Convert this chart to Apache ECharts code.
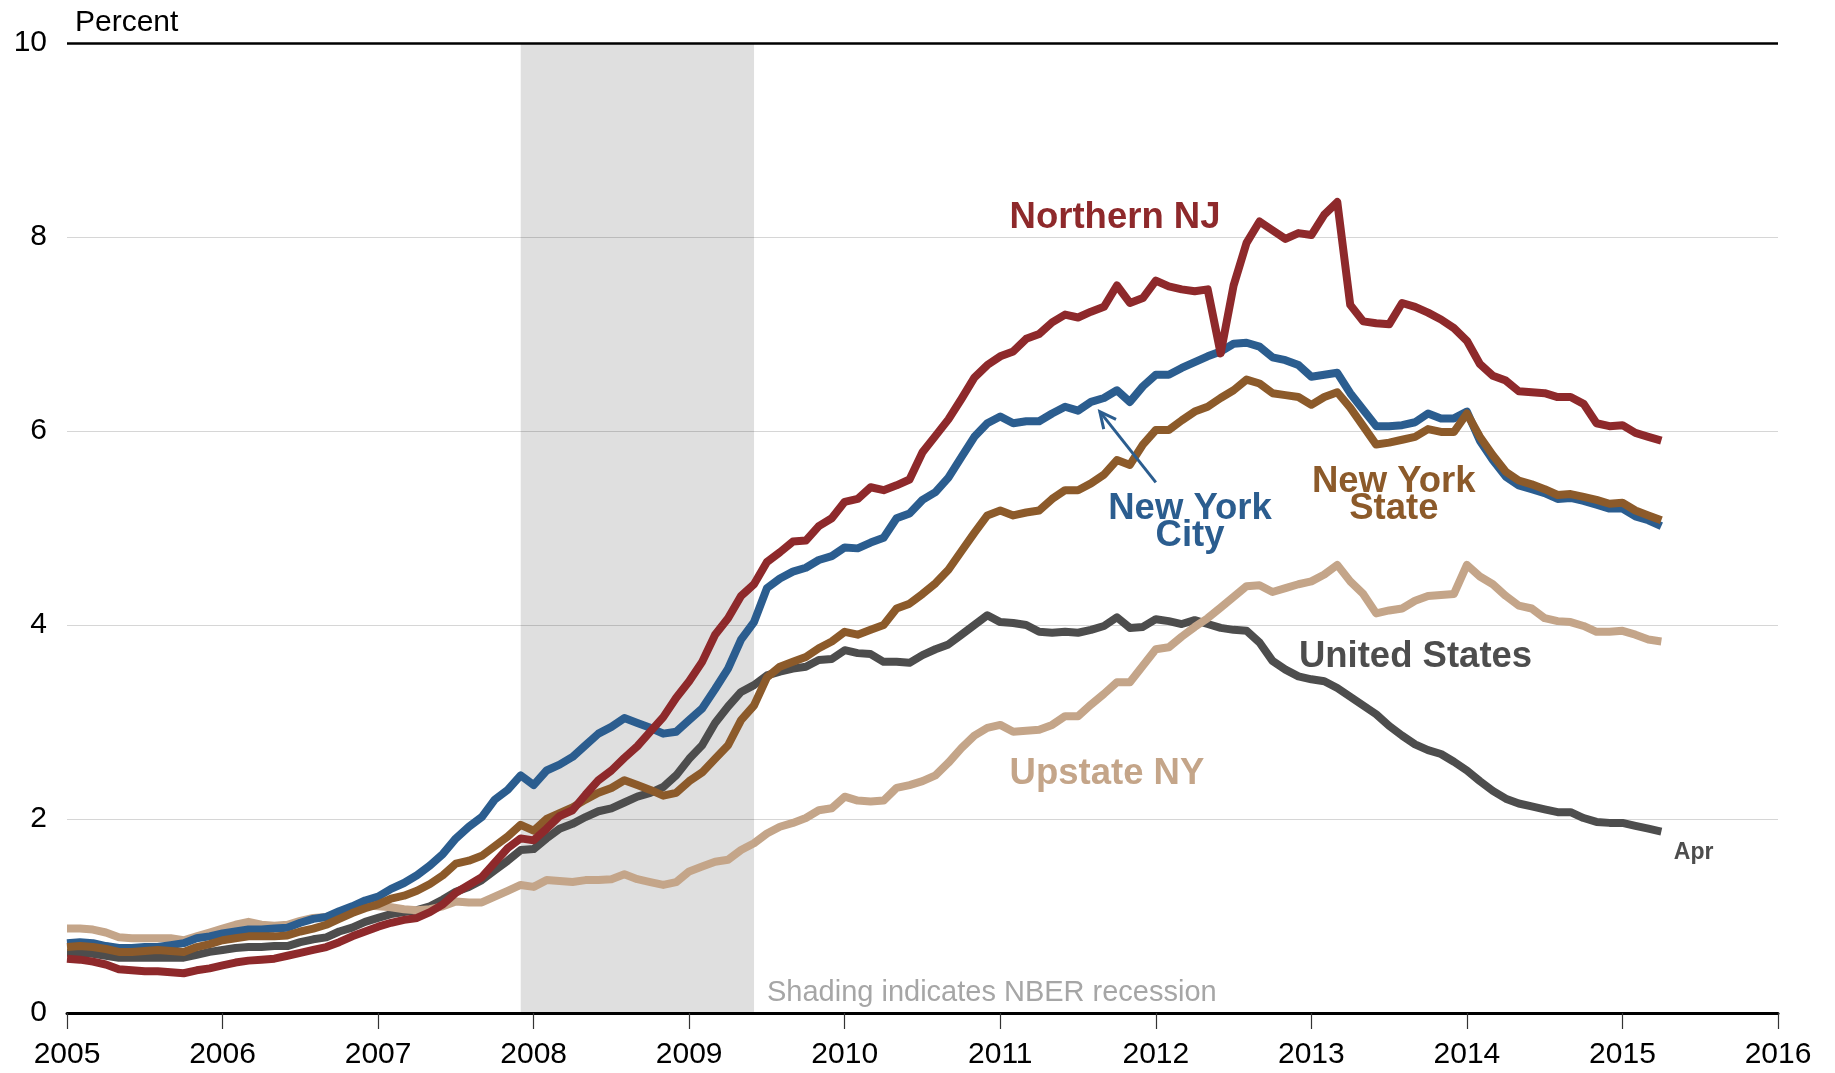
<!DOCTYPE html>
<html>
<head>
<meta charset="utf-8">
<title>Percent</title>
<script src="https://cdn.jsdelivr.net/npm/echarts@6/dist/echarts.min.js"></script>
<style>
  html, body { margin: 0; padding: 0; background: #fff; }
  #chart { width: 1835px; height: 1073px; }
</style>
</head>
<body>
<div id="chart"></div>
<script>
// monthly values, Jan 2005 .. Apr 2015
const startYear = 2005
const yearTicks = [2005, 2006, 2007, 2008, 2009, 2010, 2011, 2012, 2013, 2014, 2015, 2016]
const recession = [2007.917, 2009.417]

const unitedStates = [
  0.62, 0.62, 0.61, 0.59, 0.57, 0.57, 0.57, 0.57, 0.57, 0.57, 0.60, 0.63,
  0.65, 0.67, 0.68, 0.68, 0.69, 0.69, 0.73, 0.76, 0.78, 0.84, 0.88, 0.94,
  0.98, 1.02, 1.04, 1.06, 1.10, 1.17, 1.25, 1.30, 1.37, 1.47, 1.57, 1.68,
  1.69, 1.80, 1.90, 1.95, 2.02, 2.08, 2.11, 2.17, 2.23, 2.27, 2.33, 2.45,
  2.62, 2.76, 2.99, 3.16, 3.31, 3.38, 3.48, 3.52, 3.55, 3.57, 3.64, 3.65,
  3.74, 3.71, 3.70, 3.62, 3.62, 3.61, 3.69, 3.75, 3.80, 3.90, 4.00, 4.10,
  4.03, 4.02, 4.00, 3.93, 3.92, 3.93, 3.92, 3.95, 3.99, 4.08, 3.97, 3.98,
  4.06, 4.04, 4.01, 4.05, 4.01, 3.97, 3.95, 3.94, 3.82, 3.63, 3.54, 3.47,
  3.44, 3.42, 3.35, 3.26, 3.17, 3.08, 2.96, 2.86, 2.77, 2.71, 2.67, 2.59,
  2.50, 2.39, 2.29, 2.21, 2.16, 2.13, 2.10, 2.07, 2.07, 2.01, 1.97, 1.96,
  1.96, 1.93, 1.90, 1.87
]

const upstateNY = [
  0.87, 0.87, 0.86, 0.83, 0.78, 0.77, 0.77, 0.77, 0.77, 0.75, 0.79, 0.83,
  0.87, 0.91, 0.94, 0.91, 0.90, 0.91, 0.95, 0.98, 0.99, 1.03, 1.06, 1.11,
  1.10, 1.09, 1.07, 1.06, 1.07, 1.10, 1.15, 1.14, 1.14, 1.20, 1.26, 1.32,
  1.30, 1.37, 1.36, 1.35, 1.37, 1.37, 1.38, 1.43, 1.38, 1.35, 1.32, 1.35,
  1.46, 1.51, 1.56, 1.58, 1.68, 1.75, 1.85, 1.92, 1.96, 2.01, 2.09, 2.11,
  2.23, 2.19, 2.18, 2.19, 2.32, 2.35, 2.39, 2.45, 2.58, 2.73, 2.86, 2.94,
  2.97, 2.90, 2.91, 2.92, 2.97, 3.06, 3.06, 3.18, 3.29, 3.41, 3.41, 3.58,
  3.75, 3.77, 3.88, 3.98, 4.07, 4.18, 4.29, 4.40, 4.41, 4.34, 4.38, 4.42,
  4.45, 4.52, 4.62, 4.45, 4.32, 4.12, 4.15, 4.17, 4.25, 4.30, 4.31, 4.32,
  4.62, 4.50, 4.42, 4.30, 4.20, 4.17, 4.07, 4.04, 4.03, 3.99, 3.93, 3.93,
  3.94, 3.90, 3.85, 3.83
]

const newYorkCity = [
  0.72, 0.73, 0.72, 0.69, 0.67, 0.67, 0.68, 0.68, 0.70, 0.72, 0.77, 0.79,
  0.82, 0.84, 0.86, 0.86, 0.87, 0.88, 0.93, 0.97, 0.99, 1.05, 1.10, 1.16,
  1.20, 1.28, 1.34, 1.42, 1.52, 1.64, 1.80, 1.92, 2.02, 2.20, 2.30, 2.45,
  2.35, 2.50, 2.56, 2.64, 2.76, 2.88, 2.95, 3.04, 2.99, 2.94, 2.88, 2.90,
  3.02, 3.14, 3.34, 3.55, 3.85, 4.03, 4.38, 4.48, 4.55, 4.59, 4.67, 4.71,
  4.80, 4.79, 4.85, 4.90, 5.10, 5.15, 5.29, 5.37, 5.52, 5.73, 5.94, 6.08,
  6.15, 6.08, 6.10, 6.10, 6.18, 6.25, 6.21, 6.30, 6.34, 6.42, 6.30, 6.46,
  6.58, 6.58, 6.65, 6.71, 6.77, 6.82, 6.90, 6.91, 6.87, 6.76, 6.73, 6.68,
  6.56, 6.58, 6.60, 6.39, 6.22, 6.05, 6.05, 6.06, 6.09, 6.18, 6.13, 6.13,
  6.20, 5.90, 5.70, 5.53, 5.44, 5.40, 5.36, 5.30, 5.31, 5.28, 5.24, 5.20,
  5.20, 5.12, 5.08, 5.02
]

const newYorkState = [
  0.68, 0.69, 0.68, 0.66, 0.63, 0.63, 0.64, 0.65, 0.64, 0.63, 0.68, 0.71,
  0.75, 0.77, 0.79, 0.79, 0.79, 0.80, 0.84, 0.87, 0.91, 0.97, 1.03, 1.08,
  1.12, 1.18, 1.21, 1.26, 1.33, 1.42, 1.54, 1.57, 1.62, 1.72, 1.82, 1.94,
  1.88, 2.00, 2.06, 2.12, 2.20, 2.27, 2.32, 2.40, 2.35, 2.30, 2.24, 2.27,
  2.39, 2.48, 2.62, 2.76, 3.02, 3.17, 3.46, 3.57, 3.62, 3.67, 3.76, 3.83,
  3.93, 3.90, 3.95, 4.00, 4.17, 4.22, 4.32, 4.43, 4.57, 4.76, 4.95, 5.13,
  5.18, 5.13, 5.16, 5.18, 5.30, 5.39, 5.39, 5.46, 5.55, 5.70, 5.65, 5.86,
  6.01, 6.01, 6.11, 6.20, 6.25, 6.34, 6.42, 6.53, 6.49, 6.39, 6.37, 6.35,
  6.27, 6.35, 6.40, 6.24, 6.05, 5.86, 5.88, 5.91, 5.94, 6.02, 5.99, 5.99,
  6.18, 5.94, 5.75, 5.58, 5.49, 5.45, 5.40, 5.34, 5.35, 5.32, 5.29, 5.25,
  5.26, 5.18, 5.13, 5.08
]

const northernNJ = [
  0.56, 0.55, 0.53, 0.50, 0.45, 0.44, 0.43, 0.43, 0.42, 0.41, 0.44, 0.46,
  0.49, 0.52, 0.54, 0.55, 0.56, 0.59, 0.62, 0.65, 0.68, 0.73, 0.79, 0.84,
  0.89, 0.93, 0.96, 0.98, 1.04, 1.12, 1.24, 1.32, 1.40, 1.55, 1.70, 1.80,
  1.78, 1.90, 2.03, 2.09, 2.25, 2.40, 2.50, 2.63, 2.75, 2.90, 3.05, 3.25,
  3.42, 3.62, 3.90, 4.07, 4.30, 4.42, 4.65, 4.75, 4.86, 4.87, 5.02, 5.10,
  5.27, 5.30, 5.42, 5.39, 5.44, 5.50, 5.78, 5.95, 6.12, 6.33, 6.55, 6.68,
  6.77, 6.82, 6.95, 7.00, 7.12, 7.20, 7.17, 7.23, 7.28, 7.50, 7.32, 7.37,
  7.55, 7.49, 7.46, 7.44, 7.46, 6.80, 7.50, 7.94, 8.16, 8.07, 7.98, 8.04,
  8.02, 8.23, 8.36, 7.30, 7.13, 7.11, 7.10, 7.32, 7.28, 7.22, 7.15, 7.06,
  6.93, 6.69, 6.57, 6.52, 6.41, 6.40, 6.39, 6.35, 6.35, 6.28, 6.08, 6.05,
  6.06, 5.98, 5.94, 5.90
]

const FONT = '"Liberation Sans", Arial, Helvetica, sans-serif'

function toPairs(values) {
  return values.map((v, i) => [startYear + i / 12, v])
}

function lineSeries(name, values, color, extra) {
  return Object.assign({
    name: name,
    type: 'line',
    data: toPairs(values),
    symbol: 'none',
    smooth: false,
    lineStyle: { color: color, width: 8, join: 'round' },
    itemStyle: { color: color },
    emphasis: { disabled: true }
  }, extra || {})
}

const chart = echarts.init(document.getElementById('chart'), null, { renderer: 'canvas' })

chart.setOption({
  animation: false,
  backgroundColor: '#ffffff',
  textStyle: { fontFamily: FONT },
  grid: { left: 67, right: 57, top: 43, bottom: 60 },
  xAxis: {
    type: 'value',
    min: 2005,
    max: 2016,
    interval: 1,
    axisLine: { show: true, lineStyle: { color: '#000', width: 3 } },
    axisTick: { show: true, length: 16, lineStyle: { color: '#333', width: 1.2 } },
    axisLabel: {
      margin: 27,
      fontSize: 30,
      color: '#000',
      fontFamily: FONT,
      formatter: v => String(Math.round(v))
    },
    splitLine: { show: false }
  },
  yAxis: {
    type: 'value',
    min: 0,
    max: 10,
    interval: 2,
    name: 'Percent',
    nameLocation: 'end',
    nameGap: 5,
    nameTextStyle: {
      fontSize: 30,
      color: '#000',
      fontFamily: FONT,
      align: 'left',
      verticalAlign: 'bottom',
      padding: [0, 0, 0, 8]
    },
    axisLine: { show: false },
    axisTick: { show: false },
    axisLabel: { margin: 20, fontSize: 30, color: '#000', fontFamily: FONT },
    splitLine: { show: true, lineStyle: { color: '#d6d6d6', width: 1.2 } }
  },
  series: [
    lineSeries('United States', unitedStates, '#4d4d4d', {
      markArea: {
        silent: true,
        itemStyle: { color: 'rgba(0,0,0,0.125)' },
        data: [[{ xAxis: recession[0], yAxis: 0 }, { xAxis: recession[1], yAxis: 10 }]]
      },
      markLine: {
        silent: true,
        symbol: 'none',
        label: { show: false },
        lineStyle: { color: '#000', width: 2.5, type: 'solid' },
        data: [{ yAxis: 10 }]
      }
    }),
    lineSeries('Upstate NY', upstateNY, '#c4a589'),
    lineSeries('New York City', newYorkCity, '#2b5d8f'),
    lineSeries('New York State', newYorkState, '#8c5a2a'),
    lineSeries('Northern NJ', northernNJ, '#8e292b')
  ]
})

// annotations, placed through the axes
function px(x, y) {
  return chart.convertToPixel({ gridIndex: 0 }, [x, y])
}

function label(text, x, y, color, opts) {
  const p = px(x, y)
  const o = opts || {}
  return {
    type: 'text',
    x: p[0],
    y: p[1],
    silent: true,
    z: 100,
    style: {
      text: text,
      fill: color,
      fontFamily: FONT,
      fontSize: o.size || 36.5,
      fontWeight: o.weight || 'bold',
      align: o.align || 'left',
      verticalAlign: 'middle',
      lineHeight: o.lineHeight || 40
    }
  }
}

const tip = px(2011.64, 6.20)
const tail = px(2012.00, 5.47)
const ang = Math.atan2(tail[1] - tip[1], tail[0] - tip[0])
const head = 18
const spread = 0.45

chart.setOption({
  graphic: [
    label('Northern NJ', 2011.06, 8.20, '#8e292b'),
    label('New York\nCity', 2012.22, 5.06, '#2b5d8f', { align: 'center', lineHeight: 27 }),
    label('New York\nState', 2013.53, 5.34, '#8c5a2a', { align: 'center', lineHeight: 27 }),
    label('United States', 2012.92, 3.67, '#4d4d4d'),
    label('Upstate NY', 2011.06, 2.46, '#c4a589'),
    label('Apr', 2015.33, 1.65, '#4d4d4d', { size: 23 }),
    label('Shading indicates NBER recession', 2009.50, 0.21, '#a6a6a6', { size: 29, weight: 'normal' }),
    {
      type: 'polyline',
      silent: true,
      z: 100,
      shape: { points: [tail, tip] },
      style: { stroke: '#2b5d8f', lineWidth: 3, fill: null }
    },
    {
      type: 'polyline',
      silent: true,
      z: 100,
      shape: {
        points: [
          [tip[0] + head * Math.cos(ang - spread), tip[1] + head * Math.sin(ang - spread)],
          tip,
          [tip[0] + head * Math.cos(ang + spread), tip[1] + head * Math.sin(ang + spread)]
        ]
      },
      style: { stroke: '#2b5d8f', lineWidth: 3, fill: null }
    }
  ]
})
</script>
</body>
</html>
